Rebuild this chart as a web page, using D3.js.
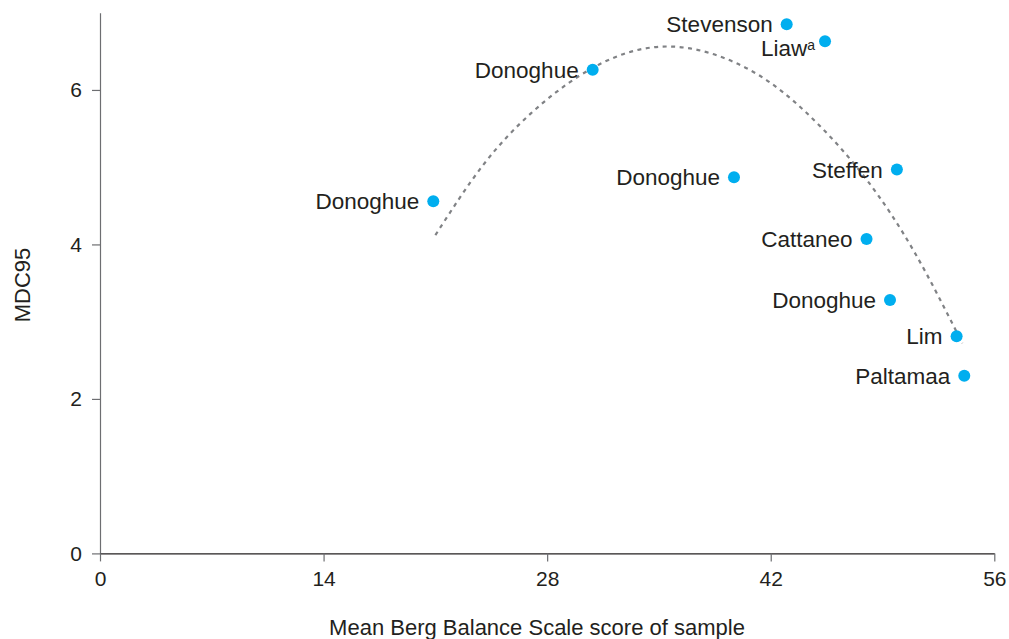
<!DOCTYPE html>
<html>
<head>
<meta charset="utf-8">
<script src="https://cdn.jsdelivr.net/npm/d3@7"></script>
<style>
  body { margin: 0; background: #fff; }
  text { font-family: "Liberation Sans", Arial, Helvetica, sans-serif; fill: #231f20; }
</style>
</head>
<body>
<div id="chart"></div>
<script>
"use strict";

// study labels and their values
const studies = ["Donoghue", "Donoghue", "Stevenson", "Liaw", "Donoghue", "Steffen", "Cattaneo", "Donoghue", "Lim", "Paltamaa"];
const bergMeans = [20.87, 30.85, 43.0, 45.4, 39.7, 49.9, 48.0, 49.47, 53.64, 54.12];
const mdc95 = [4.56, 6.26, 6.85, 6.63, 4.87, 4.97, 4.07, 3.28, 2.81, 2.30];
const superscripts = ["", "", "", "a", "", "", "", "", "", ""];

// dashed trend curve
const trendX = [21, 24, 27, 30, 33, 36, 39, 42, 45, 48, 51, 54];
const trendY = [4.12, 5.03, 5.70, 6.18, 6.48, 6.56, 6.42, 6.09, 5.55, 4.84, 3.90, 2.72];

const xTicks = [0, 14, 28, 42, 56];
const yTicks = [0, 2, 4, 6];

const msm = {
    width: 1009,
    height: 639,
    left: 100,
    right: 994.3,
    top: 12.7,
    bottom: 553.4
};

window.onload = function () {
    let svg = d3.select("#chart")
        .append("svg")
        .attr("width", msm.width)
        .attr("height", msm.height);

    let xScale = d3.scaleLinear().domain([0, 56]).range([msm.left, msm.right]);
    let yScale = d3.scaleLinear().domain([0, 7]).range([msm.bottom, msm.top]);

    // y axis
    let yAxis = svg.append("g")
        .attr("transform", "translate(" + msm.left + ",0)")
        .call(d3.axisLeft(yScale).tickValues(yTicks).tickFormat(d3.format("d"))
            .tickSize(8).tickSizeOuter(0).tickPadding(10));
    yAxis.select(".domain").attr("stroke", "#6d6e71").attr("stroke-width", 1.2);
    yAxis.selectAll(".tick line").attr("stroke", "#6d6e71").attr("stroke-width", 1.2);
    yAxis.selectAll(".tick text")
        .style("font-size", "21px")
        .style("font-family", "Liberation Sans, Arial, sans-serif")
        .attr("fill", "#231f20");

    // x axis
    let xAxis = svg.append("g")
        .attr("transform", "translate(0," + msm.bottom + ")")
        .call(d3.axisBottom(xScale).tickValues(xTicks).tickFormat(d3.format("d"))
            .tickSize(8).tickSizeOuter(0).tickPadding(10));
    xAxis.select(".domain").attr("stroke", "#231f20").attr("stroke-width", 1.2);
    xAxis.selectAll(".tick line").attr("stroke", "#6d6e71").attr("stroke-width", 1.2);
    xAxis.selectAll(".tick text")
        .style("font-size", "21px")
        .style("font-family", "Liberation Sans, Arial, sans-serif")
        .attr("fill", "#231f20");

    // trend curve
    let trend = trendX.map((x, i) => ({ x: x, y: trendY[i] }));
    svg.append("path")
        .datum(trend)
        .attr("fill", "none")
        .attr("stroke", "#808285")
        .attr("stroke-width", 2.2)
        .attr("stroke-dasharray", "4,4.5")
        .attr("d", d3.line()
            .x(d => xScale(d.x))
            .y(d => yScale(d.y))
            .curve(d3.curveNatural));

    // points
    let rows = studies.map((s, i) => ({ name: s, sup: superscripts[i], x: bergMeans[i], y: mdc95[i] }));
    svg.selectAll(".dot")
        .data(rows)
        .enter()
        .append("circle")
        .attr("class", "dot")
        .attr("cx", d => xScale(d.x))
        .attr("cy", d => yScale(d.y))
        .attr("r", 6)
        .attr("fill", "#00aeef");

    // labels
    let labels = svg.selectAll(".lbl")
        .data(rows)
        .enter()
        .append("text")
        .attr("class", "lbl")
        .attr("x", d => xScale(d.x) - (d.sup ? 10 : 14))
        .attr("y", d => yScale(d.y) + (d.sup ? 15 : 8))
        .attr("text-anchor", "end")
        .style("font-size", "22.5px");
    labels.append("tspan").text(d => d.name);
    labels.filter(d => d.sup).append("tspan")
        .attr("dy", -6)
        .style("font-size", "14px")
        .text(d => d.sup);

    // axis titles
    svg.append("text")
        .attr("x", 537)
        .attr("y", 635)
        .attr("text-anchor", "middle")
        .style("font-size", "22px")
        .text("Mean Berg Balance Scale score of sample");

    svg.append("text")
        .attr("transform", "translate(30,285) rotate(-90)")
        .attr("text-anchor", "middle")
        .style("font-size", "22px")
        .text("MDC95");
};
</script>
</body>
</html>
